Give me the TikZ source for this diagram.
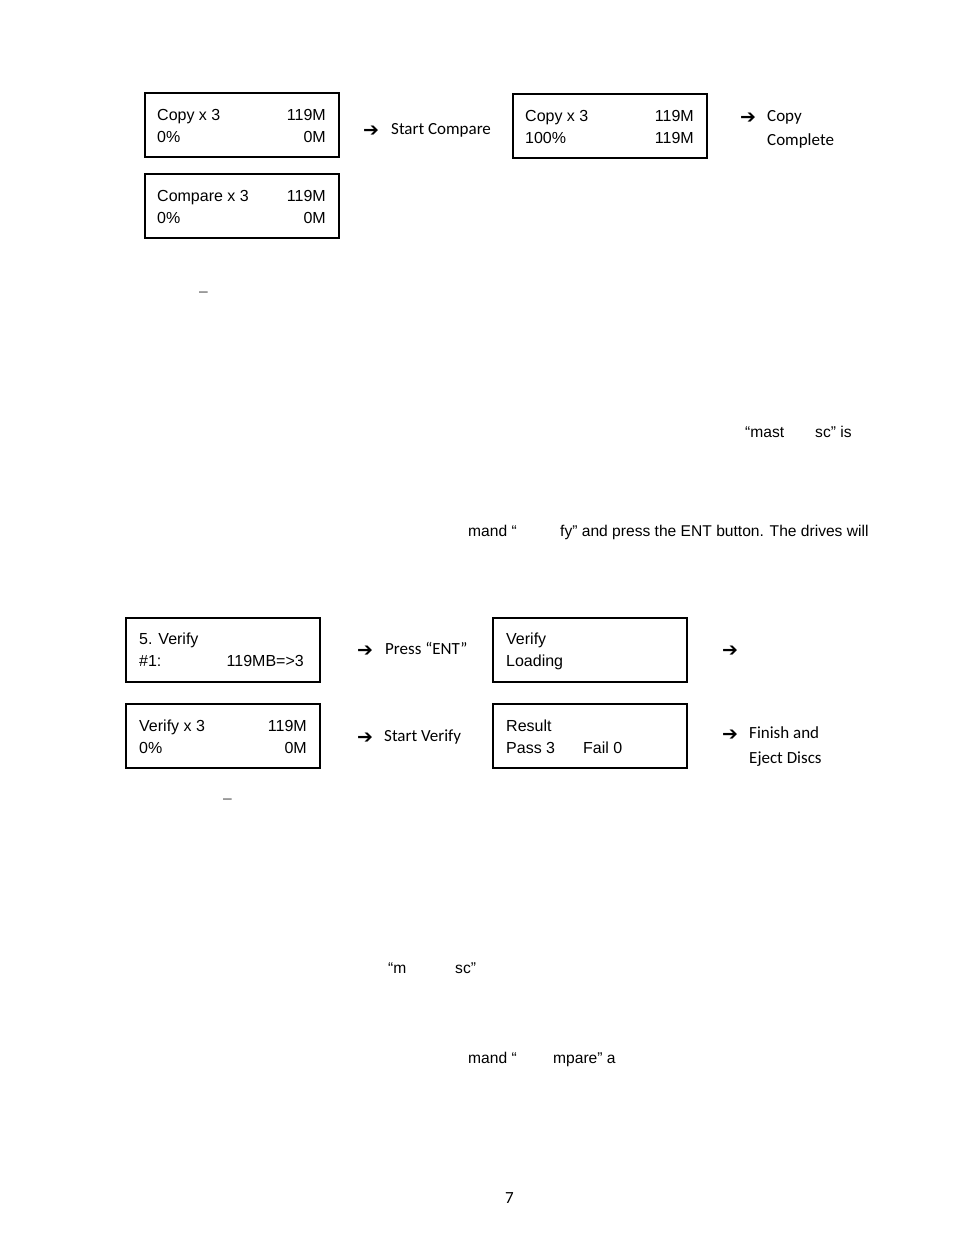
\documentclass[tikz,border=0pt]{standalone}
\usepackage{fontspec}
\setmainfont{Liberation Sans}
\newfontfamily\calfont{Carlito}
\newfontfamily\dvfont{DejaVu Sans}
\begin{document}
\begin{tikzpicture}[x=1pt,y=-1pt,
  lcd/.style={draw, line width=1.7pt, minimum width=194pt, minimum height=64pt, inner sep=0pt, anchor=north west},
  txt/.style={font=\fontsize{15.6}{18}\selectfont, inner sep=0pt, anchor=base west},
  btxt/.style={font=\fontsize{16}{18}\selectfont, inner sep=0pt, anchor=base west},
  btxtr/.style={btxt, anchor=base east},
  lbl/.style={font=\calfont\fontsize{17}{20}\selectfont, inner sep=0pt, anchor=base west},
  arr/.style={font=\dvfont\bfseries\fontsize{19}{21}\selectfont, inner sep=0pt, anchor=west}]
\useasboundingbox[fill=white] (0,0) rectangle (954,1235);
% top boxes
\node[lcd] (b1) at (144,92) {};
\node[btxt] (b1a) at (157,120.5) {Copy x 3};
\node[btxtr] (b1b) at (326,120.5) {119M};
\node[btxt] (b1c) at (157,142.5) {0\%};
\node[btxtr] (b1d) at (326,142.5) {0M};

\node[lcd] (b2) at (144,173) {};
\node[btxt] (b2a) at (157,201.5) {Compare x 3};
\node[btxtr] (b2b) at (326,201.5) {119M};
\node[btxt] (b2c) at (157,223.5) {0\%};
\node[btxtr] (b2d) at (326,223.5) {0M};

\node[lcd] (b3) at (512,93) {};
\node[btxt] (b3a) at (525,121.5) {Copy x 3};
\node[btxtr] (b3b) at (694,121.5) {119M};
\node[btxt] (b3c) at (525,143.5) {100\%};
\node[btxtr] (b3d) at (694,143.5) {119M};

\node[arr] (a1) at (363,131) {➔};
\node[lbl] (l1) at (391,134.5) {Start Compare};
\node[arr] (a2) at (740,118) {➔};
\node[lbl] (l2) at (767,121) {Copy};
\node[lbl] (l3) at (767,145.5) {Complete};

\node[txt, text=black!70] (d1) at (199,296) {–};

\node[txt] (f1) at (745,437) {“mast};
\node[txt] (f2) at (815,437) {sc” is};
\node[txt] (f3) at (468,536.5) {mand “};
\node[txt] (f4) at (560,536.5) {fy” and press the ENT button. The drives will};

% verify boxes
\node[lcd] (b4) at (125,617) {};
\node[btxt] (b4a) at (139,644.5) {5. Verify};
\node[btxt] (b4c) at (139,666.5) {\#1:};
\node[btxtr] (b4d) at (304,666.5) {119MB=>3};

\node[lcd] (b5) at (125,703) {};
\node[btxt] (b5a) at (139,731.5) {Verify x 3};
\node[btxtr] (b5b) at (307,731.5) {119M};
\node[btxt] (b5c) at (139,753.5) {0\%};
\node[btxtr] (b5d) at (307,753.5) {0M};

\node[lcd] (b6) at (492,617) {};
\node[btxt] (b6a) at (506,644.5) {Verify};
\node[btxt] (b6c) at (506,666.5) {Loading};

\node[lcd] (b7) at (492,703) {};
\node[btxt] (b7a) at (506,731.5) {Result};
\node[btxt] (b7c) at (506,753.5) {Pass 3};
\node[btxt] (b7d) at (583,753.5) {Fail 0};

\node[arr] (a3) at (357,651) {➔};
\node[lbl] (l4) at (385,654.5) {Press “ENT”};
\node[arr] (a4) at (722,651) {➔};
\node[arr] (a5) at (357,738) {➔};
\node[lbl] (l5) at (384,741.5) {Start Verify};
\node[arr] (a6) at (722,735) {➔};
\node[lbl] (l6) at (749,738.5) {Finish and};
\node[lbl] (l7) at (749,763.5) {Eject Discs};

\node[txt, text=black!70] (d2) at (223,803) {–};

\node[txt] (f5) at (388,973) {“m};
\node[txt] (f6) at (455,973) {sc”};
\node[txt] (f7) at (468,1063) {mand “};
\node[txt] (f8) at (553,1063) {mpare” a};

\node[lbl] (pg) at (505,1203.5) {7};
\end{tikzpicture}
\end{document}
